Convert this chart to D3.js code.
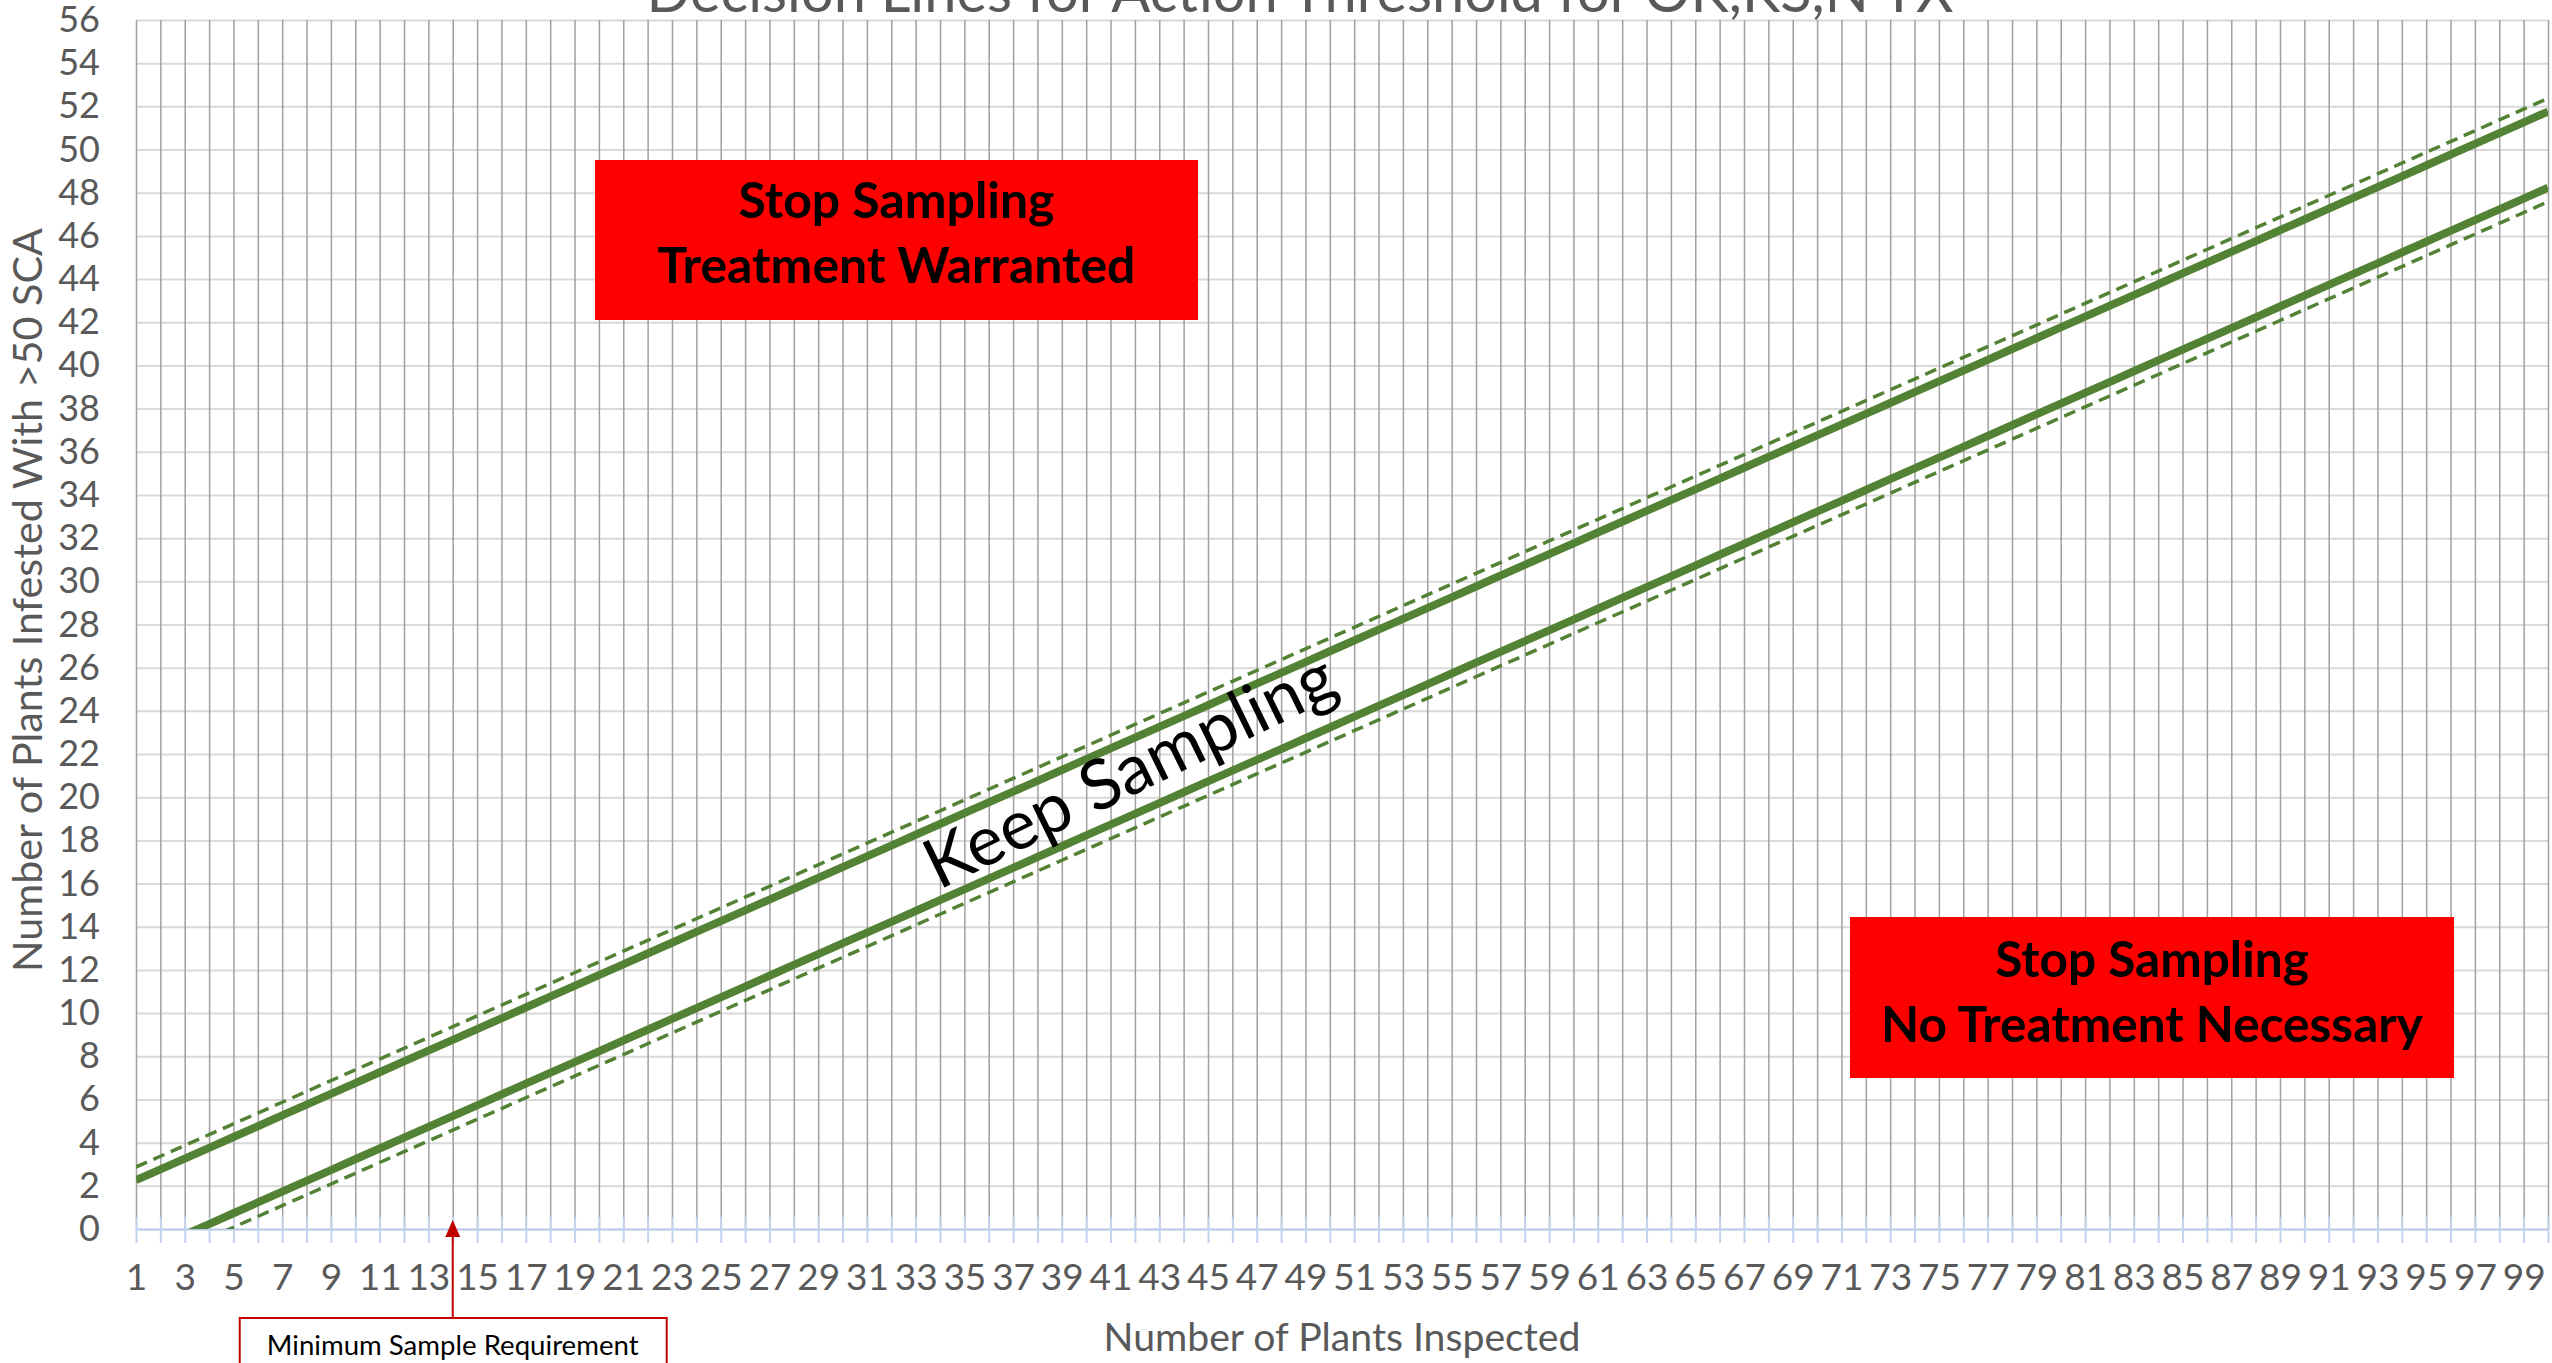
<!DOCTYPE html>
<html lang="en">
<head>
<meta charset="UTF-8">
<title>Decision Lines for Action Threshold for OK,KS,N TX</title>
<style>
  body { margin: 0; background: #fff; }
  svg { display: block; font-family: Lato, "Open Sans", sans-serif; }
</style>
</head>
<body>
<div id="chart"></div>
<script src="https://d3js.org/d3.v7.min.js"></script>
<script>
// categories: number of plants inspected
const plants = d3.range(1, 101);
const xLabels = plants.filter(n => n % 2 === 1);
const yTicks = d3.range(0, 57, 2);

// decision line, treatment warranted (solid, upper)
const upperLine = [
  2.26, 2.76, 3.26, 3.76, 4.26, 4.76, 5.26, 5.76, 6.26, 6.76,
  7.26, 7.76, 8.26, 8.76, 9.26, 9.76, 10.26, 10.76, 11.26, 11.76,
  12.26, 12.76, 13.26, 13.76, 14.26, 14.76, 15.26, 15.76, 16.26, 16.76,
  17.26, 17.76, 18.26, 18.76, 19.26, 19.76, 20.26, 20.76, 21.26, 21.76,
  22.26, 22.76, 23.26, 23.76, 24.26, 24.76, 25.26, 25.76, 26.26, 26.76,
  27.26, 27.76, 28.26, 28.76, 29.26, 29.76, 30.26, 30.76, 31.26, 31.76,
  32.26, 32.76, 33.26, 33.76, 34.26, 34.76, 35.26, 35.76, 36.26, 36.76,
  37.26, 37.76, 38.26, 38.76, 39.26, 39.76, 40.26, 40.76, 41.26, 41.76,
  42.26, 42.76, 43.26, 43.76, 44.26, 44.76, 45.26, 45.76, 46.26, 46.76,
  47.26, 47.76, 48.26, 48.76, 49.26, 49.76, 50.26, 50.76, 51.26, 51.76
];
// upper confidence limit (dashed)
const upperBand = [
  2.87, 3.37, 3.87, 4.37, 4.87, 5.37, 5.87, 6.37, 6.87, 7.37,
  7.87, 8.37, 8.87, 9.37, 9.87, 10.37, 10.87, 11.37, 11.87, 12.37,
  12.87, 13.37, 13.87, 14.37, 14.87, 15.37, 15.87, 16.37, 16.87, 17.37,
  17.87, 18.37, 18.87, 19.37, 19.87, 20.37, 20.87, 21.37, 21.87, 22.37,
  22.87, 23.37, 23.87, 24.37, 24.87, 25.37, 25.87, 26.37, 26.87, 27.37,
  27.87, 28.37, 28.87, 29.37, 29.87, 30.37, 30.87, 31.37, 31.87, 32.37,
  32.87, 33.37, 33.87, 34.37, 34.87, 35.37, 35.87, 36.37, 36.87, 37.37,
  37.87, 38.37, 38.87, 39.37, 39.87, 40.37, 40.87, 41.37, 41.87, 42.37,
  42.87, 43.37, 43.87, 44.37, 44.87, 45.37, 45.87, 46.37, 46.87, 47.37,
  47.87, 48.37, 48.87, 49.37, 49.87, 50.37, 50.87, 51.37, 51.87, 52.37
];
// decision line, no treatment (solid, lower)
const lowerLine = [
  -1.27, -0.77, -0.27, 0.23, 0.73, 1.23, 1.73, 2.23, 2.73, 3.23,
  3.73, 4.23, 4.73, 5.23, 5.73, 6.23, 6.73, 7.23, 7.73, 8.23,
  8.73, 9.23, 9.73, 10.23, 10.73, 11.23, 11.73, 12.23, 12.73, 13.23,
  13.73, 14.23, 14.73, 15.23, 15.73, 16.23, 16.73, 17.23, 17.73, 18.23,
  18.73, 19.23, 19.73, 20.23, 20.73, 21.23, 21.73, 22.23, 22.73, 23.23,
  23.73, 24.23, 24.73, 25.23, 25.73, 26.23, 26.73, 27.23, 27.73, 28.23,
  28.73, 29.23, 29.73, 30.23, 30.73, 31.23, 31.73, 32.23, 32.73, 33.23,
  33.73, 34.23, 34.73, 35.23, 35.73, 36.23, 36.73, 37.23, 37.73, 38.23,
  38.73, 39.23, 39.73, 40.23, 40.73, 41.23, 41.73, 42.23, 42.73, 43.23,
  43.73, 44.23, 44.73, 45.23, 45.73, 46.23, 46.73, 47.23, 47.73, 48.23
];
// lower confidence limit (dashed)
const lowerBand = [
  -1.92, -1.42, -0.92, -0.42, 0.08, 0.58, 1.08, 1.58, 2.08, 2.58,
  3.08, 3.58, 4.08, 4.58, 5.08, 5.58, 6.08, 6.58, 7.08, 7.58,
  8.08, 8.58, 9.08, 9.58, 10.08, 10.58, 11.08, 11.58, 12.08, 12.58,
  13.08, 13.58, 14.08, 14.58, 15.08, 15.58, 16.08, 16.58, 17.08, 17.58,
  18.08, 18.58, 19.08, 19.58, 20.08, 20.58, 21.08, 21.58, 22.08, 22.58,
  23.08, 23.58, 24.08, 24.58, 25.08, 25.58, 26.08, 26.58, 27.08, 27.58,
  28.08, 28.58, 29.08, 29.58, 30.08, 30.58, 31.08, 31.58, 32.08, 32.58,
  33.08, 33.58, 34.08, 34.58, 35.08, 35.58, 36.08, 36.58, 37.08, 37.58,
  38.08, 38.58, 39.08, 39.58, 40.08, 40.58, 41.08, 41.58, 42.08, 42.58,
  43.08, 43.58, 44.08, 44.58, 45.08, 45.58, 46.08, 46.58, 47.08, 47.58
];

const minSample = 14;

const W = 2552, H = 1363;
const plot = { left: 136, right: 2548, top: 20, bottom: 1229 };
const green = "#548235";
const labelGrey = "#595959";

const svg = d3.select("#chart").append("svg")
    .attr("width", W)
    .attr("height", H);

const x = d3.scalePoint().domain(plants).range([plot.left, plot.right]);
const y = d3.scaleLinear().domain([0, 56]).range([plot.bottom, plot.top]);

// fit font size so a text element has the target width
function fitText(sel, target) {
    const w = sel.node().getComputedTextLength();
    const fs = parseFloat(sel.attr("font-size"));
    return fs * target / w;
}

// horizontal gridlines
svg.append("g")
    .attr("transform", `translate(${plot.left},0)`)
    .call(d3.axisLeft(y).tickValues(yTicks.filter(d => d > 0))
        .tickSize(-(plot.right - plot.left)).tickFormat(""))
    .call(g => g.select(".domain").remove())
    .call(g => g.selectAll(".tick line").attr("stroke", "#d9d9d9").attr("stroke-width", 2));

// vertical gridlines
svg.append("g")
    .attr("transform", `translate(0,${plot.bottom})`)
    .call(d3.axisBottom(x).tickValues(plants)
        .tickSize(-(plot.bottom - plot.top)).tickFormat(""))
    .call(g => g.select(".domain").remove())
    .call(g => g.selectAll(".tick line").attr("stroke", "#a0a0a0").attr("stroke-width", 1.5));

// x axis line with cross tick marks
const xAxis = svg.append("g")
    .attr("transform", `translate(0,${plot.bottom})`)
    .call(d3.axisBottom(x).tickValues(plants).tickSizeInner(14).tickSizeOuter(0).tickFormat(""));
xAxis.select(".domain").attr("stroke", "#b4c7e7").attr("stroke-width", 2);
xAxis.selectAll(".tick line").attr("y1", -12).attr("stroke", "#c3d3ee").attr("stroke-width", 2);

// x tick labels
const xLab = svg.append("g")
    .attr("transform", `translate(0,${plot.bottom})`)
    .call(d3.axisBottom(x).tickValues(xLabels).tickSize(0).tickPadding(35))
    .attr("font-family", null)
    .attr("font-size", 37);
xLab.select(".domain").remove();
xLab.selectAll("text").attr("fill", labelGrey);

// y tick labels
const yLab = svg.append("g")
    .attr("transform", `translate(${plot.left},0)`)
    .call(d3.axisLeft(y).tickValues(yTicks).tickSize(0).tickPadding(36))
    .attr("font-family", null)
    .attr("font-size", 36);
yLab.select(".domain").remove();
yLab.selectAll("text").attr("fill", labelGrey);

// series lines, clipped to plot area
svg.append("clipPath").attr("id", "plotClip")
    .append("rect")
    .attr("x", plot.left).attr("y", plot.top)
    .attr("width", plot.right - plot.left).attr("height", plot.bottom - plot.top);

const line = d3.line()
    .x((d, i) => x(plants[i]))
    .y(d => y(d));

const series = [
    { values: upperBand, width: 3.5, dash: "12,7" },
    { values: lowerBand, width: 3.5, dash: "12,7" },
    { values: upperLine, width: 8, dash: null },
    { values: lowerLine, width: 8, dash: null }
];

svg.append("g")
    .attr("clip-path", "url(#plotClip)")
    .selectAll("path")
    .data(series)
    .join("path")
    .attr("d", d => line(d.values))
    .attr("fill", "none")
    .attr("stroke", green)
    .attr("stroke-width", d => d.width)
    .attr("stroke-dasharray", d => d.dash);

// title (partly above the top edge, as in the original)
const title = svg.append("text")
    .attr("x", 1300).attr("y", 12)
    .attr("text-anchor", "middle")
    .attr("font-size", 50)
    .attr("fill", labelGrey)
    .text("Decision Lines for Action Threshold for OK,KS,N TX");
title.attr("font-size", fitText(title, 1307));

// axis titles
const yTitle = svg.append("text")
    .attr("transform", "translate(42,600) rotate(-90)")
    .attr("text-anchor", "middle")
    .attr("font-size", 36)
    .attr("fill", labelGrey)
    .text("Number of Plants Infested With >50 SCA");
yTitle.attr("font-size", fitText(yTitle, 744));

const xTitle = svg.append("text")
    .attr("x", 1342).attr("y", 1351)
    .attr("text-anchor", "middle")
    .attr("font-size", 36)
    .attr("fill", labelGrey)
    .text("Number of Plants Inspected");
xTitle.attr("font-size", fitText(xTitle, 477));

// red decision boxes
const boxes = [
    { x0: 595, x1: 1198, y0: 160, y1: 320, lines: ["Stop Sampling", "Treatment Warranted"], base: [218, 283], w: 478 },
    { x0: 1850, x1: 2454, y0: 917, y1: 1078, lines: ["Stop Sampling", "No Treatment Necessary"], base: [977, 1042], w: 542 }
];

boxes.forEach(b => {
    svg.append("rect")
        .attr("x", b.x0).attr("y", b.y0)
        .attr("width", b.x1 - b.x0).attr("height", b.y1 - b.y0)
        .attr("fill", "#ff0000");
    const cx = (b.x0 + b.x1) / 2;
    const texts = b.lines.map((t, i) => svg.append("text")
        .attr("x", cx).attr("y", b.base[i])
        .attr("text-anchor", "middle")
        .attr("font-size", 44)
        .attr("font-weight", 700)
        .attr("fill", "#000")
        .text(t));
    const fs = fitText(texts[1], b.w);
    texts.forEach(t => t.attr("font-size", fs));
});

// keep sampling label along the band
const keep = svg.append("text")
    .attr("transform", "translate(1140,792) rotate(-26)")
    .attr("text-anchor", "middle")
    .attr("font-size", 66)
    .attr("fill", "#000")
    .text("Keep Sampling");
keep.attr("font-size", fitText(keep, 448));

// minimum sample annotation
const ax = x(minSample);
svg.append("line")
    .attr("x1", ax).attr("x2", ax)
    .attr("y1", 1318).attr("y2", 1234)
    .attr("stroke", "#c00000").attr("stroke-width", 2);
svg.append("path")
    .attr("d", `M${ax},1220 L${ax - 7.5},1237 L${ax + 7.5},1237 Z`)
    .attr("fill", "#c00000");
svg.append("rect")
    .attr("x", ax - 213).attr("y", 1318)
    .attr("width", 427).attr("height", 80)
    .attr("fill", "#fff")
    .attr("stroke", "#c00000").attr("stroke-width", 2);
const note = svg.append("text")
    .attr("x", ax).attr("y", 1355)
    .attr("text-anchor", "middle")
    .attr("font-size", 26)
    .attr("fill", "#000")
    .text("Minimum Sample Requirement");
note.attr("font-size", fitText(note, 372));
</script>
</body>
</html>
